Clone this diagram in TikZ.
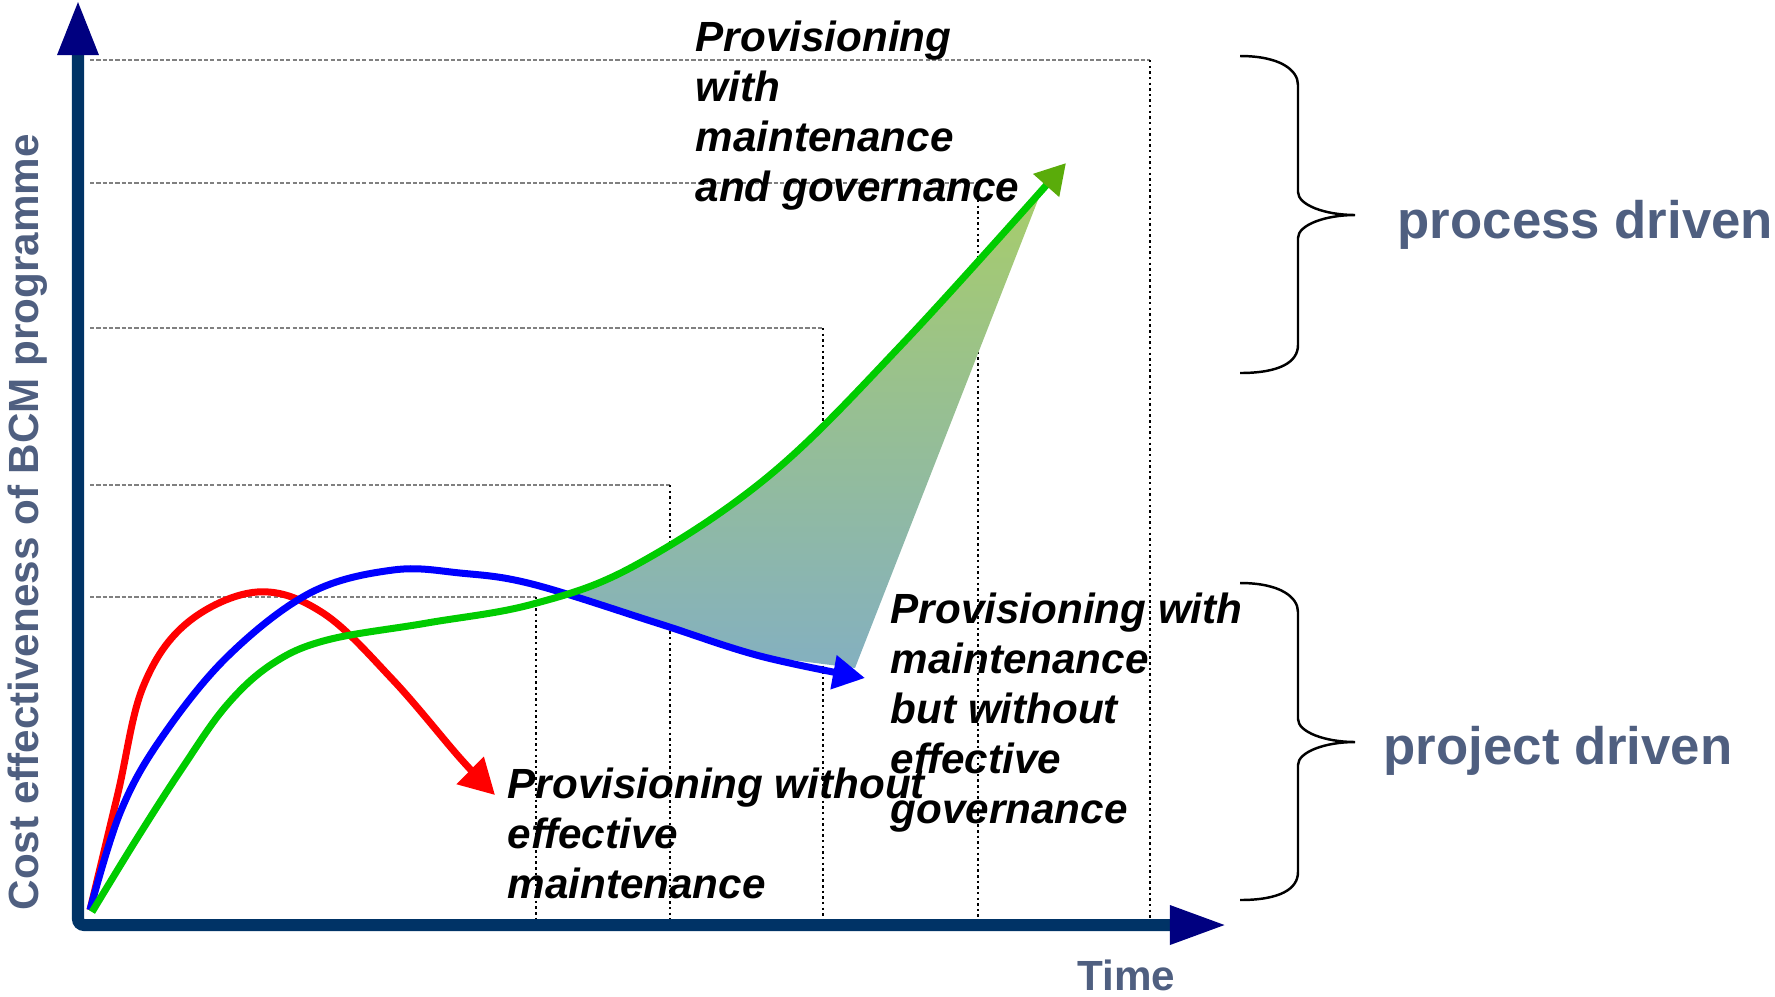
\documentclass[tikz,border=0pt]{standalone}
\usepackage{fontspec}
\setmainfont{Liberation Sans}
\usetikzlibrary{arrows.meta}

\definecolor{axisblue}{RGB}{0,51,102}
\definecolor{tipnavy}{RGB}{0,0,128}
\definecolor{labelgray}{RGB}{79,95,128}
\definecolor{curvered}{RGB}{255,0,0}
\definecolor{curveblue}{RGB}{0,0,255}
\definecolor{curvegreen}{RGB}{0,204,0}
\definecolor{headgreen}{RGB}{90,172,10}
\definecolor{shadetop}{RGB}{168,205,105}
\definecolor{shadebottom}{RGB}{132,176,192}

\begin{document}
\begin{tikzpicture}[x=0.01cm,y=-0.01cm]
    % Define styles for lines and labels
    \tikzstyle{axisline} = [draw=axisblue, line width=0.12cm, rounded corners=0.06cm,
        {Triangle[length=0.55cm,width=0.38cm,color=tipnavy]}-{Triangle[length=0.57cm,width=0.36cm,color=tipnavy]}]
    \tikzstyle{guideh} = [draw=gray, line width=0.4pt, dash pattern=on 1.2pt off 0.6pt]
    \tikzstyle{guidev} = [draw=black, line width=0.7pt, dash pattern=on 0.7pt off 0.9pt]
    \tikzstyle{curve} = [line width=0.07cm, line join=round]
    \tikzstyle{curvelabel} = [anchor=north west, inner sep=0pt, align=left, font=\fontsize{12pt}{14.2pt}\selectfont\bfseries\itshape]
    \tikzstyle{drivelabel} = [anchor=base west, inner sep=0pt, text=labelgray, font=\fontsize{15pt}{18pt}\selectfont\bfseries]
    \tikzstyle{axislabel} = [anchor=base west, inner sep=0pt, text=labelgray, font=\fontsize{12pt}{14pt}\selectfont\bfseries]
    \tikzstyle{bracket} = [draw=black, line width=0.7pt]

    \useasboundingbox (0,0) rectangle (1775,996);

    % Guide lines from the axis to the time marks
    \foreach \gx/\gy in {536/597, 670/485, 823/328, 978/183, 1150/60} {
        \draw[guideh] (90,\gy) -- (\gx,\gy);
        \draw[guidev] (\gx,\gy) -- (\gx,919);
    }

    % Axes
    \coordinate (ytip) at (78,0);
    \coordinate (xtip) at (1227,925);
    \draw[axisline] (ytip) |- (xtip);

    % Shaded gap between the blue and the green curve
    \shade[top color=shadetop, bottom color=shadebottom]
        plot[smooth] coordinates {(572,597) (634,566) (770,475) (906,340) (1045,182)}
        -- (855,668)
        -- plot[smooth] coordinates {(760,656) (657,623) (572,597)} -- cycle;

    % Draw the three curves
    \coordinate (start) at (90,910);
    \coordinate (redtip) at (495,795);
    \coordinate (bluetip) at (865,678);
    \coordinate (greentip) at (1066,163);
    \draw[curve, curvered, -{Triangle[length=0.35cm,width=0.37cm]}] plot[smooth, tension=0.6] coordinates
        {(start) (118,793) (143,687) (187,623) (257,592) (323,613) (393,680) (460,758) (redtip)};
    \draw[curve, curveblue, -{Triangle[length=0.32cm,width=0.33cm]}] plot[smooth, tension=0.6] coordinates
        {(start) (120,813) (160,740) (227,657) (310,593) (393,570) (460,573) (532,584) (657,623) (760,656) (bluetip)};
    \draw[curve, curvegreen, -{Triangle[length=0.3cm,width=0.33cm,color=headgreen]}] plot[smooth, tension=0.6] coordinates
        {(92,912) (136,840) (181,770) (226,706) (272,664) (327,640) (427,623) (533,604) (634,566) (770,475) (906,340) (greentip)};

    % Labels of the curves
    \node[curvelabel] (lblred) at (507,767) {Provisioning without\\effective\\maintenance};
    \node[curvelabel] (lblblue) at (890,592) {Provisioning with\\maintenance\\but without\\effective\\governance};
    \node[curvelabel] (lblgreen) at (695,20) {Provisioning\\with\\maintenance\\and governance};

    % Braces and their labels
    \foreach \dy in {0,527} {
        \draw[bracket, shift={(0,\dy)}] (1240,56) .. controls (1280,56) and (1298,70) .. (1298,85)
            -- (1298,192) .. controls (1298,205) and (1325,215) .. (1355,215)
            .. controls (1325,215) and (1298,225) .. (1298,238)
            -- (1298,345) .. controls (1298,362) and (1280,373) .. (1240,373);
    }
    \node[drivelabel] (procdrv) at (1397,238) {process driven};
    \node[drivelabel] (projdrv) at (1383,764) {project driven};

    % Axis titles
    \node[axislabel] (timelbl) at (1077,990) {Time};
    \node[axislabel, rotate=90] (ylbl) at (38,911) {Cost effectiveness of BCM programme};
\end{tikzpicture}
\end{document}
